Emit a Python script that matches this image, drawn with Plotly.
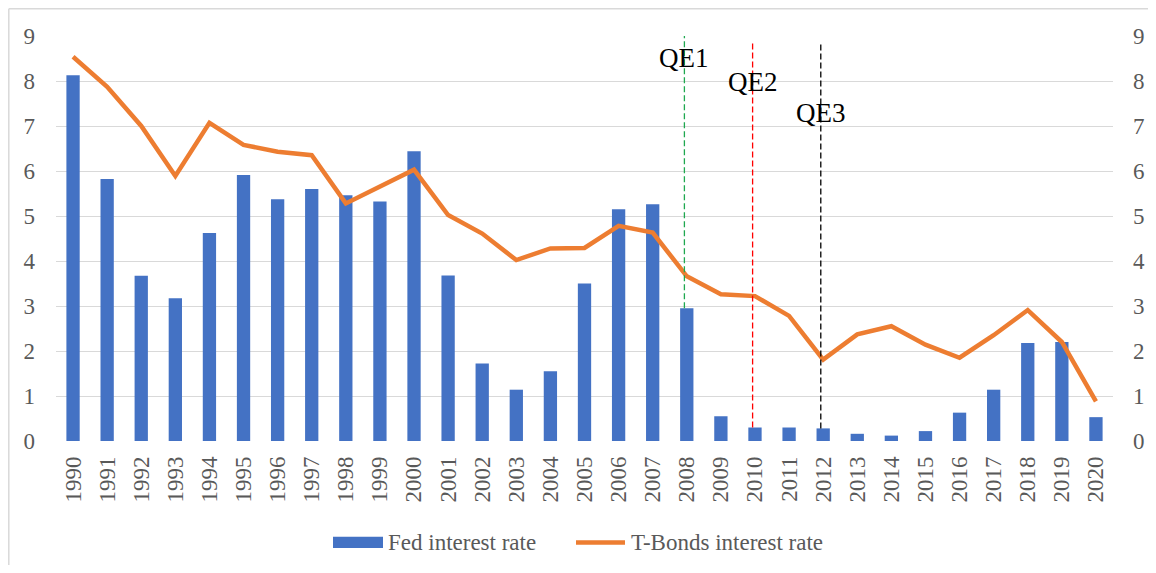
import plotly.graph_objects as go

years = list(range(1990, 2021))
fed_rate = [8.13, 5.82, 3.67, 3.17, 4.62, 5.91, 5.37, 5.60, 5.46, 5.32, 6.44,
            3.68, 1.72, 1.14, 1.55, 3.50, 5.15, 5.26, 2.95, 0.55, 0.30,
            0.30, 0.28, 0.16, 0.12, 0.22, 0.63, 1.14, 2.18, 2.20, 0.53]
tbond_rate = [8.54, 7.87, 7.00, 5.89, 7.07, 6.58, 6.43, 6.35, 5.28, 5.65, 6.03,
              5.02, 4.61, 4.02, 4.28, 4.29, 4.78, 4.63, 3.66, 3.26, 3.22,
              2.78, 1.81, 2.37, 2.55, 2.14, 1.85, 2.35, 2.91, 2.20, 0.88]
y_ticks = list(range(0, 10))
qe_labels = ["QE1", "QE2", "QE3"]
qe_years = [2008, 2010, 2012]
qe_colors = ["#1FA84F", "#FF0000", "#000000"]
qe_tops = [9.07, 8.84, 8.87]
qe_label_y = [8.51, 7.98, 7.30]

FONT = "Liberation Serif"
TICK_COLOR = "#595959"
GRID = "#D9D9D9"
FS = 23

# page has an 8px body margin; figure sized to fit in the window
OFF = 8
W, H = 1156 - 2 * OFF, 573 - 2 * OFF
# target plot area in window pixels: x 56..1113, y 36..440.7
ml = 56 - OFF
mt = 36 - OFF
mr = (OFF + W) - 1113
mb = (OFF + H) - 440.7
pw, ph = W - ml - mr, H - mt - mb

def px_to_paper(x, y):
    return (x - OFF - ml) / pw, (OFF + H - mb - y) / ph

fig = go.Figure()
fig.add_trace(go.Bar(x=years, y=fed_rate, name="Fed interest rate",
                     marker=dict(color="#4472C4", line=dict(width=0)),
                     width=0.39, showlegend=False))
fig.add_trace(go.Scatter(x=years, y=tbond_rate, name="T-Bonds interest rate",
                         mode="lines", line=dict(color="#ED7D31", width=4.5),
                         yaxis="y2", showlegend=False))

shapes = []
annotations = []
for lab, yr, col, top, ly in zip(qe_labels, qe_years, qe_colors, qe_tops, qe_label_y):
    bottom = fed_rate[years.index(yr)]
    shapes.append(dict(type="line", xref="x", yref="y", x0=yr - 0.07, x1=yr - 0.07,
                       y0=bottom, y1=top, line=dict(color=col, width=1.3, dash="6px,3px")))
    annotations.append(dict(x=yr - 0.07, y=ly, xref="x", yref="y", text=lab, showarrow=False,
                            font=dict(family=FONT, size=27, color="#000000"),
                            xanchor="center", yanchor="middle"))

# chart-area border: only the top and left edges are visible in the window
bx0, by0 = px_to_paper(8.8, 8.8)
bx1, by1 = px_to_paper(1160, 580)
shapes.append(dict(type="line", xref="paper", yref="paper", x0=bx0, y0=by0, x1=bx1, y1=by0,
                   line=dict(color=GRID, width=1.5), layer="below"))
shapes.append(dict(type="line", xref="paper", yref="paper", x0=bx0, y0=by0, x1=bx0, y1=by1,
                   line=dict(color=GRID, width=1.5), layer="below"))

# manual legend
sx0, sy = px_to_paper(333, 542)
sx1, _ = px_to_paper(383, 542)
_, sy0 = px_to_paper(0, 547.5)
_, sy1 = px_to_paper(0, 536.5)
shapes.append(dict(type="rect", xref="paper", yref="paper", x0=sx0, x1=sx1, y0=sy0, y1=sy1,
                   fillcolor="#4472C4", line=dict(width=0)))
lx0, ly = px_to_paper(576, 542)
lx1, _ = px_to_paper(625, 542)
shapes.append(dict(type="line", xref="paper", yref="paper", x0=lx0, x1=lx1, y0=ly, y1=ly,
                   line=dict(color="#ED7D31", width=4.5)))
tx1, _ = px_to_paper(386, 542)
tx2, _ = px_to_paper(629, 542)
annotations.append(dict(x=tx1, y=sy, xref="paper", yref="paper", text="Fed interest rate",
                        showarrow=False, xanchor="left", yanchor="middle",
                        font=dict(family=FONT, size=FS, color=TICK_COLOR)))
annotations.append(dict(x=tx2, y=sy, xref="paper", yref="paper", text="T-Bonds interest rate",
                        showarrow=False, xanchor="left", yanchor="middle",
                        font=dict(family=FONT, size=FS, color=TICK_COLOR)))

fig.update_layout(
    width=W, height=H, autosize=False,
    margin=dict(l=ml, r=mr, t=mt, b=mb, pad=0),
    paper_bgcolor="white", plot_bgcolor="white",
    font=dict(family=FONT, size=FS, color=TICK_COLOR),
    xaxis=dict(range=[1989.5, 2020.5], tickmode="array", tickvals=years,
               ticktext=[str(y) for y in years], tickangle=-90, showgrid=False,
               zeroline=False, showline=False, ticks="", ticklabelstandoff=10,
               automargin=False,
               tickfont=dict(family=FONT, size=FS, color=TICK_COLOR)),
    yaxis=dict(range=[0, 9], tickvals=y_ticks, showgrid=True, gridcolor=GRID, gridwidth=1.3,
               zeroline=False, showline=False, ticks="", ticklabelstandoff=20,
               automargin=False,
               tickfont=dict(family=FONT, size=FS, color=TICK_COLOR)),
    yaxis2=dict(range=[0, 9], tickvals=y_ticks, overlaying="y", side="right", showgrid=False,
                zeroline=False, showline=False, ticks="", ticklabelstandoff=19,
                automargin=False,
                tickfont=dict(family=FONT, size=FS, color=TICK_COLOR)),
    shapes=shapes, annotations=annotations, bargap=0.61,
)
fig.write_html("out.html")
